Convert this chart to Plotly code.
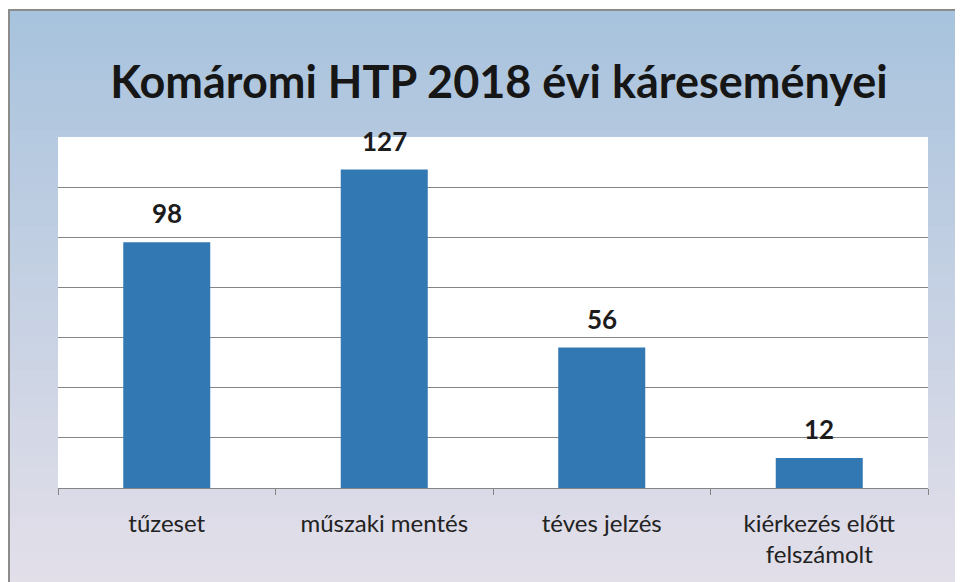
import plotly.graph_objects as go

# data
categories = ["tűzeset", "műszaki mentés", "téves jelzés", "kiérkezés előtt felszámolt"]
tick_labels = ["tűzeset", "műszaki mentés", "téves jelzés", "kiérkezés előtt<br>felszámolt"]
counts = [98, 127, 56, 12]

# the page body adds an 8px margin, so the figure starts 8px in from the window edge
W, H = 955, 574
L, R, T, B = 50, 35, 129, 94
FONT = "Lato"

pw, ph = W - L - R, H - T - B


def px_x(fx):
    # figure pixel -> paper (plot domain) x
    return (fx - L) / pw


def px_y(fy):
    return (H - B - fy) / ph


fig = go.Figure()
fig.add_trace(go.Bar(
    x=categories, y=counts,
    marker=dict(color="#3278b3", line=dict(width=0)),
    hoverinfo="x+y",
))

# value labels above the bars
for c, v in zip(categories, counts):
    fig.add_annotation(
        x=c, y=v, text=str(v), showarrow=False,
        yanchor="bottom", yshift=11,
        font=dict(family=FONT, size=26, color="#1c1c1c", weight="bold"),
    )

# slide-like gradient background (blue at the top, lavender at the bottom)
top_rgb = (168, 195, 221)
bot_rgb = (227, 223, 233)
n_bands = 48
fy_top, fy_bot = 2, H + 5
for i in range(n_bands):
    t = i / (n_bands - 1)
    r = round(top_rgb[0] + (bot_rgb[0] - top_rgb[0]) * t)
    g = round(top_rgb[1] + (bot_rgb[1] - top_rgb[1]) * t)
    b = round(top_rgb[2] + (bot_rgb[2] - top_rgb[2]) * t)
    fa = fy_top + (fy_bot - fy_top) * i / n_bands
    fb = fy_top + (fy_bot - fy_top) * (i + 1) / n_bands + 1
    fig.add_shape(type="rect", xref="paper", yref="paper",
                  x0=px_x(1), x1=px_x(W + 5), y0=px_y(fb), y1=px_y(fa),
                  fillcolor=f"rgb({r},{g},{b})", line=dict(width=0), layer="below")
# white plot area over the gradient
fig.add_shape(type="rect", xref="paper", yref="paper", x0=0, x1=1, y0=0, y1=1,
              fillcolor="white", line=dict(width=0), layer="below")
# frame edge of the scanned slide
fig.add_shape(type="path", xref="paper", yref="paper",
              path=f"M {px_x(1)},{px_y(H + 5)} L {px_x(1)},{px_y(fy_top)} L {px_x(W + 5)},{px_y(fy_top)}",
              line=dict(color="#8c8c8c", width=2), layer="below")

fig.update_layout(
    width=W, height=H,
    margin=dict(l=L, r=R, t=T, b=B),
    paper_bgcolor="white",
    plot_bgcolor="white",
    showlegend=False,
    bargap=0.6,
    title=dict(
        text="<b>Komáromi HTP 2018 évi káreseményei</b>",
        x=491 / W, xanchor="center", y=1 - 74 / H, yanchor="middle",
        font=dict(family=FONT, size=45, color="#161616"),
    ),
    font=dict(family=FONT, color="#222222"),
)
fig.update_xaxes(
    tickvals=categories, ticktext=tick_labels,
    showline=True, linecolor="#858585", linewidth=1,
    ticks="outside", tickson="boundaries", ticklen=6, tickcolor="#858585",
    ticklabelstandoff=14,
    tickfont=dict(family=FONT, size=24, color="#222222"),
    showgrid=False,
)
fig.update_yaxes(
    range=[0, 140], dtick=20, showticklabels=False,
    showgrid=True, gridcolor="#858585", gridwidth=1,
    zeroline=False, showline=False,
)

fig.write_html("out.html")
